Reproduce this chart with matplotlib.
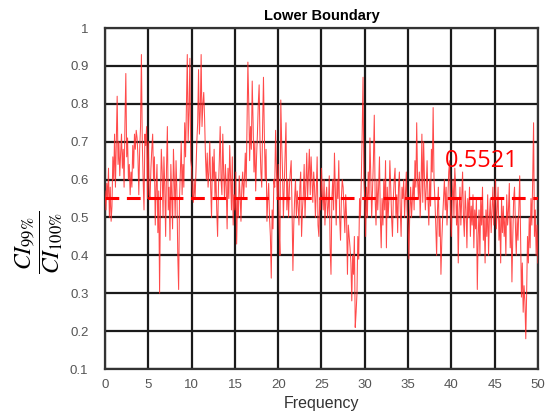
import numpy as np
import matplotlib
matplotlib.use("Agg")
import matplotlib.pyplot as plt
from matplotlib.ticker import FormatStrFormatter

plt.rcParams['font.family'] = ['Liberation Sans', 'DejaVu Sans']
plt.rcParams['mathtext.fontset'] = 'stix'

# ratio values, one row per unit of frequency (step 0.1)
ratio = [
    0.57, 0.52, 0.59, 0.55, 0.63, 0.50, 0.58, 0.49, 0.53, 0.66,
    0.60, 0.72, 0.58, 0.70, 0.82, 0.64, 0.70, 0.61, 0.67, 0.72,
    0.63, 0.68, 0.58, 0.75, 0.88, 0.66, 0.71, 0.60, 0.64, 0.56,
    0.62, 0.58, 0.69, 0.63, 0.72, 0.68, 0.73, 0.71, 0.66, 0.56,
    0.68, 0.74, 0.93, 0.70, 0.60, 0.52, 0.72, 0.69, 0.74, 0.55,
    0.70, 0.56, 0.55, 0.63, 0.68, 0.72, 0.60, 0.66, 0.48, 0.58,
    0.64, 0.46, 0.57, 0.30, 0.55, 0.68, 0.62, 0.50, 0.66, 0.58,
    0.45, 0.63, 0.74, 0.52, 0.58, 0.44, 0.64, 0.55, 0.47, 0.68,
    0.60, 0.50, 0.65, 0.57, 0.40, 0.31, 0.55, 0.62, 0.70, 0.56,
    0.64, 0.58, 0.75, 0.66, 0.80, 0.93, 0.70, 0.78, 0.92, 0.65,
    0.63, 0.56, 0.54, 0.60, 0.55, 0.62, 0.70, 0.75, 0.89, 0.72,
    0.78, 0.93, 0.74, 0.80, 0.83, 0.76, 0.66, 0.60, 0.67, 0.58,
    0.62, 0.70, 0.58, 0.50, 0.66, 0.60, 0.68, 0.55, 0.62, 0.52,
    0.45, 0.58, 0.65, 0.74, 0.60, 0.56, 0.72, 0.62, 0.55, 0.64,
    0.58, 0.47, 0.63, 0.55, 0.69, 0.60, 0.52, 0.66, 0.48, 0.56,
    0.52, 0.62, 0.43, 0.55, 0.50, 0.61, 0.56, 0.49, 0.58, 0.62,
    0.55, 0.60, 0.67, 0.58, 0.74, 0.91, 0.80, 0.65, 0.74, 0.68,
    0.86, 0.75, 0.62, 0.70, 0.57, 0.66, 0.72, 0.80, 0.85, 0.70,
    0.62, 0.58, 0.74, 0.87, 0.72, 0.60, 0.68, 0.49, 0.55, 0.59,
    0.50, 0.45, 0.34, 0.52, 0.47, 0.60, 0.58, 0.73, 0.62, 0.55,
    0.64, 0.48, 0.40, 0.81, 0.70, 0.62, 0.50, 0.58, 0.66, 0.75,
    0.52, 0.60, 0.50, 0.58, 0.62, 0.65, 0.52, 0.36, 0.48, 0.55,
    0.60, 0.50, 0.57, 0.53, 0.48, 0.58, 0.62, 0.45, 0.52, 0.56,
    0.64, 0.50, 0.58, 0.67, 0.55, 0.62, 0.68, 0.56, 0.66, 0.60,
    0.54, 0.62, 0.58, 0.50, 0.57, 0.66, 0.48, 0.45, 0.55, 0.52,
    0.63, 0.56, 0.52, 0.60, 0.48, 0.55, 0.58, 0.50, 0.53, 0.61,
    0.42, 0.35, 0.55, 0.60, 0.52, 0.67, 0.58, 0.48, 0.60, 0.55,
    0.65, 0.50, 0.44, 0.55, 0.60, 0.58, 0.52, 0.46, 0.56, 0.50,
    0.35, 0.48, 0.45, 0.42, 0.38, 0.28, 0.40, 0.35, 0.45, 0.21,
    0.25, 0.30, 0.45, 0.39, 0.55, 0.50, 0.60, 0.72, 0.87, 0.60,
    0.55, 0.45, 0.58, 0.50, 0.62, 0.55, 0.71, 0.60, 0.50, 0.58,
    0.65, 0.77, 0.55, 0.48, 0.60, 0.52, 0.58, 0.66, 0.50, 0.42,
    0.55, 0.48, 0.60, 0.52, 0.65, 0.42, 0.58, 0.50, 0.55, 0.65,
    0.58, 0.50, 0.45, 0.55, 0.60, 0.63, 0.50, 0.56, 0.46, 0.58,
    0.62, 0.52, 0.45, 0.58, 0.55, 0.60, 0.50, 0.56, 0.62, 0.52,
    0.48, 0.39, 0.52, 0.58, 0.50, 0.55, 0.60, 0.52, 0.65, 0.58,
    0.75, 0.60, 0.55, 0.62, 0.50, 0.58, 0.72, 0.54, 0.70, 0.60,
    0.52, 0.58, 0.65, 0.55, 0.48, 0.60, 0.53, 0.68, 0.62, 0.79,
    0.60, 0.55, 0.48, 0.40, 0.52, 0.58, 0.45, 0.50, 0.35, 0.44,
    0.50, 0.55, 0.60, 0.52, 0.58, 0.48, 0.55, 0.62, 0.65, 0.52,
    0.45, 0.55, 0.60, 0.50, 0.63, 0.58, 0.48, 0.55, 0.38, 0.52,
    0.58, 0.48, 0.55, 0.62, 0.50, 0.45, 0.57, 0.52, 0.42, 0.55,
    0.50, 0.58, 0.45, 0.53, 0.48, 0.56, 0.42, 0.52, 0.47, 0.55,
    0.31, 0.45, 0.52, 0.40, 0.55, 0.48, 0.58, 0.44, 0.50, 0.38,
    0.52, 0.45, 0.56, 0.40, 0.50, 0.55, 0.46, 0.52, 0.58, 0.48,
    0.55, 0.60, 0.47, 0.52, 0.58, 0.44, 0.50, 0.38, 0.55, 0.46,
    0.53, 0.45, 0.50, 0.40, 0.56, 0.48, 0.52, 0.59, 0.42, 0.50,
    0.33, 0.45, 0.55, 0.58, 0.48, 0.40, 0.50, 0.44, 0.52, 0.61,
    0.45, 0.29, 0.38, 0.25, 0.32, 0.28, 0.18, 0.30, 0.45, 0.38,
    0.50, 0.42, 0.55, 0.48, 0.60, 0.75, 0.45, 0.52, 0.40, 0.48,
    0.38,
]
freq = np.arange(len(ratio)) * 0.1

mean_level = 0.5521
xticks = [0, 5, 10, 15, 20, 25, 30, 35, 40, 45, 50]
yticks = [0.1, 0.2, 0.3, 0.4, 0.5, 0.6, 0.7, 0.8, 0.9, 1.0]

fig = plt.figure(figsize=(5.5, 4.18), dpi=100)
ax = fig.add_axes([0.191, 0.117, 0.787, 0.816])

ax.plot(freq, ratio, color='#ff2a2a', lw=0.75, alpha=0.85, zorder=3)
ax.axhline(mean_level, color='red', lw=2.2, ls=(0, (4.5, 2.5)), zorder=4)
ax.text(39.3, 0.632, f"{mean_level:.4f}", color='red', fontsize=17,
        family=['Open Sans', 'DejaVu Sans'], zorder=5)

ax.set_xlim(0, 50)
ax.set_ylim(0.1, 1.0)
ax.set_xticks(xticks)
ax.set_yticks(yticks)
ax.yaxis.set_major_formatter(FormatStrFormatter('%g'))
ax.grid(True, color='#1a1a1a', lw=1.6, zorder=1)
ax.set_axisbelow(True)
for s in ax.spines.values():
    s.set_color('#333333')
    s.set_linewidth(1.6)
ax.tick_params(length=0, labelsize=9.5, labelcolor='#555555')
ax.tick_params(axis='y', pad=12)
ax.tick_params(axis='x', pad=7)

ax.set_title("Lower Boundary", fontsize=10.5, fontweight='bold', pad=6)
ax.set_xlabel("Frequency", fontsize=11.5, color='#333333', labelpad=4)
fig.text(39 / 550, 1 - 242 / 418, r"$\dfrac{CI_{99\%}}{CI_{100\%}}$",
         fontsize=17, rotation=90, ha='center', va='center')

fig.savefig("out.png", dpi=100)
